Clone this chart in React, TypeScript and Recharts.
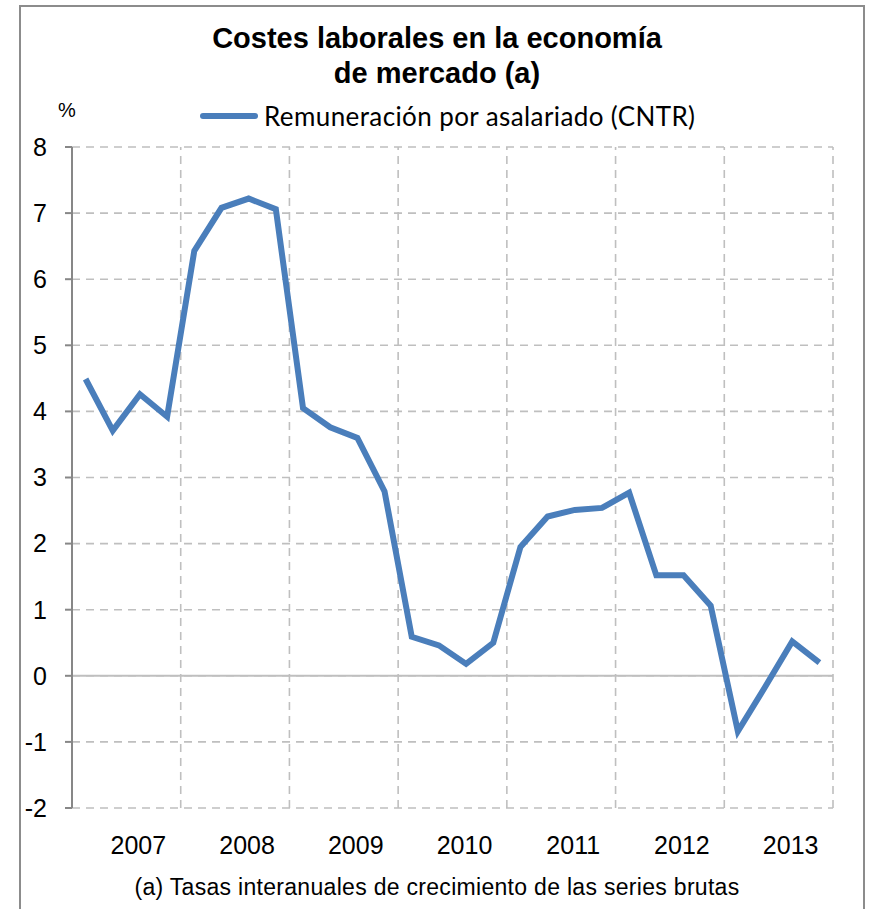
import React from 'react';
import {
  LineChart,
  Line,
  XAxis,
  YAxis,
  CartesianGrid,
  ReferenceLine,
} from 'recharts';

// --- Data ---
const years = [2007, 2008, 2009, 2010, 2011, 2012, 2013];
const quarters = [1, 2, 3, 4];

// Remuneración por asalariado (CNTR), tasa interanual, % (2007T1 .. 2013T4)
const remuneracion = [
  4.49, 3.71, 4.26, 3.92,
  6.43, 7.08, 7.22, 7.06,
  4.05, 3.76, 3.6, 2.79,
  0.59, 0.46, 0.18, 0.5,
  1.95, 2.41, 2.51, 2.54,
  2.77, 1.52, 1.52, 1.06,
  -0.84, -0.17, 0.52, 0.2,
];

const yTicks = [-2, -1, 0, 1, 2, 3, 4, 5, 6, 7, 8];
const yearBounds = [...years, 2014];
const yearCenters = years.map((y) => y + 0.5);

// time as a decimal year, middle of each quarter
const chartData = years.flatMap((year, yi) =>
  quarters.map((q, qi) => ({
    t: year + (q - 0.5) / 4,
    value: remuneracion[yi * 4 + qi],
  }))
);

const BLUE = '#4a7ebb';
const GRID = '#bfbfbf';
const AXIS = '#878787';
const SANS = '"Liberation Sans", Arial, sans-serif';

export default function App() {
  return (
    <div style={{ position: 'absolute', left: 0, top: 0, width: 869, height: 909, background: '#fff', overflow: 'hidden' }}>
      {/* outer frame */}
      <div
        style={{
          position: 'absolute',
          left: 19,
          top: 5,
          width: 846,
          height: 920,
          border: '2px solid #8c8c8c',
          boxSizing: 'border-box',
        }}
      />

      <LineChart
        width={869}
        height={909}
        data={chartData}
        margin={{ top: 147, right: 36, bottom: 41, left: 0 }}
        style={{ position: 'absolute', left: 0, top: 0 }}
      >
        <XAxis
          dataKey="t"
          type="number"
          domain={[2007, 2014]}
          ticks={yearCenters}
          interval={0}
          tickFormatter={(v) => String(Math.floor(v))}
          axisLine={false}
          tickLine={false}
          tickSize={0}
          tickMargin={28}
          height={60}
          tick={{ fontSize: 25, fill: '#000', fontFamily: SANS, dx: 12 }}
        />
        <YAxis
          domain={[-2, 8]}
          ticks={yTicks}
          interval={0}
          width={72}
          axisLine={{ stroke: AXIS, strokeWidth: 2 }}
          tickLine={{ stroke: AXIS, strokeWidth: 2 }}
          tickSize={7}
          tickMargin={18}
          tick={{ fontSize: 25, fill: '#000', fontFamily: SANS }}
        />
        <CartesianGrid
          vertical={false}
          stroke={GRID}
          strokeWidth={1.6}
          strokeDasharray="8 6"
        />
        {/* year boundaries */}
        {yearBounds.map((y) => (
          <ReferenceLine
            key={y}
            x={y}
            stroke={GRID}
            strokeWidth={1.6}
            strokeDasharray="8 6"
          />
        ))}
        <ReferenceLine y={0} stroke={GRID} strokeWidth={2} />
        <Line
          type="linear"
          dataKey="value"
          stroke={BLUE}
          strokeWidth={6}
          dot={false}
          isAnimationActive={false}
        />
      </LineChart>

      {/* title */}
      <div
        style={{
          position: 'absolute',
          left: 0,
          top: 21,
          width: 874,
          textAlign: 'center',
          fontFamily: SANS,
          fontWeight: 'bold',
          fontSize: 29,
          lineHeight: '35px',
          color: '#000',
        }}
      >
        Costes laborales en la economía
        <br />
        de mercado (a)
      </div>

      {/* unit */}
      <div
        style={{
          position: 'absolute',
          left: 58,
          top: 99,
          fontFamily: SANS,
          fontSize: 20,
          color: '#000',
        }}
      >
        %
      </div>

      {/* legend */}
      <div
        style={{
          position: 'absolute',
          left: 200,
          top: 100,
          display: 'flex',
          alignItems: 'center',
          height: 32,
        }}
      >
        <div style={{ width: 58, height: 6, background: BLUE, borderRadius: 3 }} />
        <span
          style={{
            marginLeft: 6,
            fontFamily: 'Lato, "Open Sans", sans-serif',
            fontSize: 26,
            letterSpacing: 0.4,
            color: '#000',
            whiteSpace: 'nowrap',
          }}
        >
          Remuneración por asalariado (CNTR)
        </span>
      </div>

      {/* footnote */}
      <div
        style={{
          position: 'absolute',
          left: 0,
          top: 874,
          width: 874,
          textAlign: 'center',
          fontFamily: SANS,
          fontSize: 23,
          letterSpacing: 0.3,
          color: '#000',
          whiteSpace: 'nowrap',
        }}
      >
        (a) Tasas interanuales de crecimiento de las series brutas
      </div>
    </div>
  );
}
